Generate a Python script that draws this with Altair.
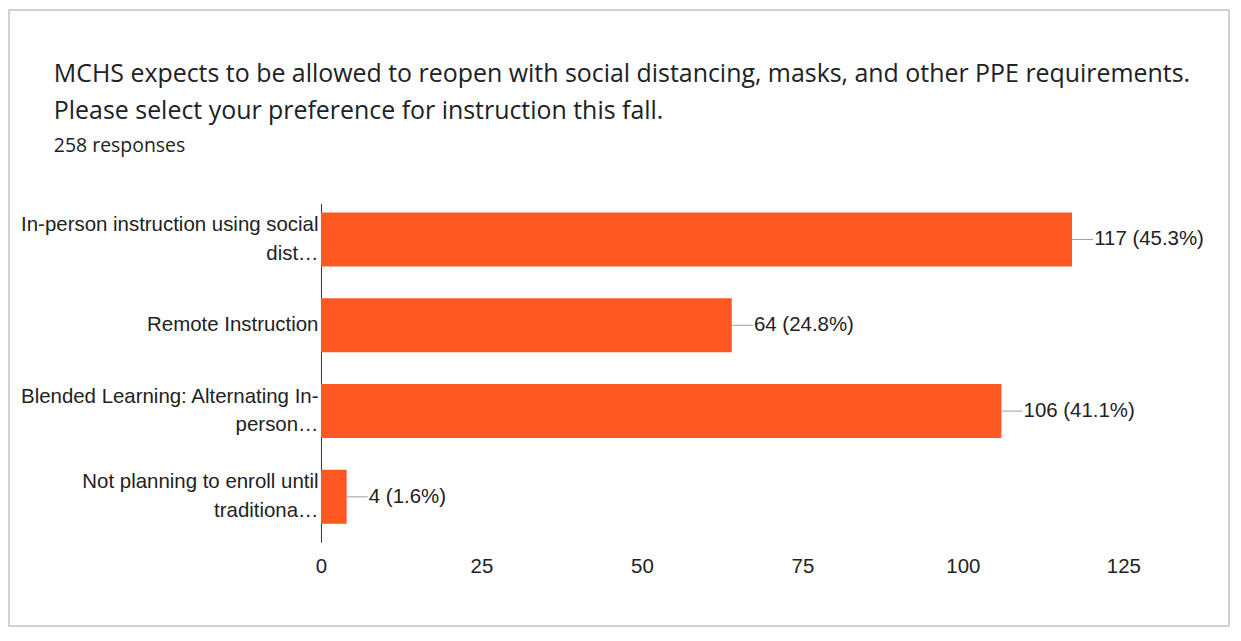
import altair as alt
import pandas as pd

categories = [
    "In-person instruction using social|dist…",
    "Remote Instruction",
    "Blended Learning: Alternating In-|person…",
    "Not planning to enroll until|traditiona…",
]
counts = [117, 64, 106, 4]
percents = ["45.3%", "24.8%", "41.1%", "1.6%"]
x_ticks = [0, 25, 50, 75, 100, 125]

title_lines = [
    "MCHS expects to be allowed to reopen with social distancing, masks, and other PPE requirements.",
    "Please select your preference for instruction this fall.",
]
subtitle = "258 responses"

df = pd.DataFrame({
    "label": categories,
    "count": counts,
    "pct": percents,
})
df["text"] = [f"{c} ({p})" for c, p in zip(counts, percents)]

BAR = "#FF5722"
TXT = "#222222"
LABEL_FONT = "Liberation Sans"
FS = 20.5

y_enc = alt.Y(
    "label:N",
    sort=None,
    scale=alt.Scale(paddingInner=0.37, paddingOuter=0.16, align=0.33),
    axis=alt.Axis(
        title=None,
        labelExpr="split(datum.label, '|')",
        labelFontSize=FS,
        labelFont=LABEL_FONT,
        labelColor=TXT,
        labelLineHeight=29,
        labelPadding=3,
        labelLimit=0,
        labelOffset={"condition": {"test": "indexof(datum.value, '|') >= 0", "value": -14.5}, "value": 0},
        ticks=False,
        domain=True,
        domainColor="#333333",
        domainWidth=1,
        grid=False,
    ),
)

x_scale = alt.Scale(domain=[0, 125], nice=False)

base = alt.Chart(df)

bars = base.mark_bar(color=BAR).encode(
    x=alt.X(
        "count:Q",
        scale=x_scale,
        axis=alt.Axis(
            title=None,
            values=x_ticks,
            labelFontSize=FS,
            labelFont=LABEL_FONT,
            labelColor=TXT,
            labelPadding=14,
            labelFlush=False,
            ticks=False,
            domain=False,
            grid=False,
        ),
    ),
    y=y_enc,
)

leaders = base.transform_calculate(end="datum.count + 3.3").mark_rule(
    color="#9e9e9e", strokeWidth=1
).encode(
    x=alt.X("count:Q", scale=x_scale),
    x2="end:Q",
    y=alt.Y("label:N", sort=None),
)

labels = base.transform_calculate(end="datum.count + 3.3").mark_text(
    align="left", baseline="middle", dx=1, fontSize=FS, font=LABEL_FONT, color=TXT
).encode(
    x=alt.X("end:Q", scale=x_scale),
    y=alt.Y("label:N", sort=None),
    text="text:N",
)

frame = alt.Chart(pd.DataFrame({"f": [0]})).mark_rect(
    fill="transparent", stroke="#c4c4c4", strokeWidth=1.5
).encode(
    x=alt.value(-313), x2=alt.value(911),
    y=alt.value(-194), y2=alt.value(424),
)

chart = alt.layer(frame, bars, leaders, labels).properties(
    width=805,
    height=340,
    autosize=alt.AutoSizeParams(type="none"),
    padding={"left": 314, "top": 195, "right": 110, "bottom": 86},
    title=alt.TitleParams(
        text=title_lines,
        subtitle=subtitle,
        anchor="start",
        frame="group",
        dx=-268,
        offset=-147,
        font="Open Sans",
        fontSize=25,
        fontWeight="normal",
        color="#202124",
        lineHeight=38,
        subtitleFont="Open Sans",
        subtitleFontSize=19.5,
        subtitleColor="#202124",
        subtitlePadding=13,
    ),
).configure(
    background="white",
    view=alt.ViewConfig(stroke="transparent", strokeWidth=0),
)

chart.save("out.html", embed_options={"renderer": "svg", "actions": False})
